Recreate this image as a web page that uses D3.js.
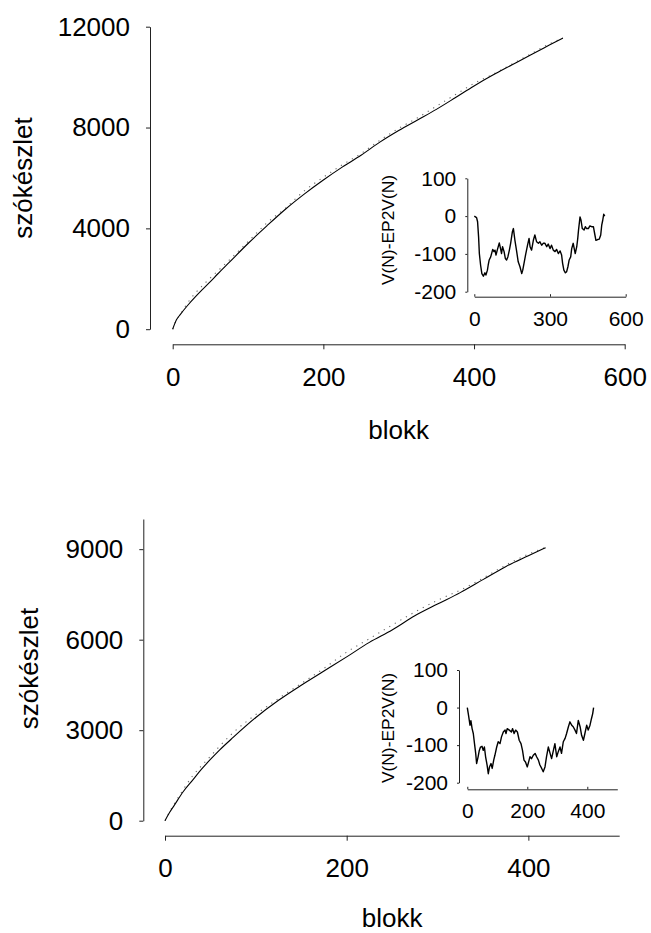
<!DOCTYPE html>
<html>
<head>
<meta charset="utf-8">
<script src="https://cdn.jsdelivr.net/npm/d3@7"></script>
<style>
  html, body { margin: 0; padding: 0; background: #fff; }
  svg { display: block; }
  text { font-family: "Liberation Sans", Arial, sans-serif; fill: #000; }
</style>
</head>
<body>
<svg id="chart" width="651" height="933"></svg>
<script>
// ---- Upper panel: vocabulary growth (solid) and EP2V expectation (dotted)
const blocksTop = [0, 5, 10, 20, 30, 40, 50, 60, 75, 100, 125, 150, 175, 200, 225, 250, 275, 300, 325, 350, 375, 400, 425, 450, 475, 500, 518];
const vocabTop  = [0, 370, 580, 950, 1280, 1590, 1890, 2200, 2650, 3400, 4100, 4770, 5370, 5920, 6430, 6900, 7420, 7880, 8300, 8720, 9180, 9650, 10080, 10480, 10880, 11270, 11550];
const ep2vTop   = [0, 372, 586, 1049, 1432, 1743, 2035, 2314, 2741, 3473, 4213, 4815, 5495, 6028, 6517, 6969, 7493, 7966, 8387, 8845, 9300, 9749, 10112, 10513, 10915, 11321, 11550];

// Upper inset: V(N) - EP2V(N)
const diffTopN = [0, 9, 13, 17, 20, 25, 30, 36, 42, 46, 52, 55, 59, 65, 73, 78, 82, 86, 91, 99, 104, 108, 112, 118, 123, 128, 133, 139, 144, 151, 155, 161, 168, 174, 181, 188, 192, 197, 203, 211, 217, 221, 227, 234, 240, 247, 254, 260, 267, 273, 280, 287, 293, 300, 306, 313, 320, 326, 333, 340, 346, 350, 355, 361, 366, 371, 376, 382, 386, 392, 396, 400, 406, 410, 413, 419, 423, 428, 435, 440, 445, 452, 458, 465, 472, 478, 482, 489, 495, 501, 505, 509, 513, 517];
const diffTopV = [0, -4, -15, -55, -99, -130, -152, -159, -150, -156, -143, -130, -116, -108, -88, -94, -90, -103, -90, -71, -86, -99, -81, -94, -112, -116, -108, -90, -72, -41, -33, -64, -94, -121, -134, -152, -143, -125, -103, -77, -59, -81, -90, -64, -50, -68, -72, -68, -77, -72, -72, -81, -74, -86, -77, -90, -94, -88, -99, -92, -103, -125, -143, -150, -147, -134, -116, -108, -86, -72, -86, -99, -81, -59, -37, -2, -11, -33, -37, -28, -33, -33, -26, -28, -28, -50, -64, -62, -61, -50, -24, -11, 5, 0];

// ---- Lower panel
const blocksBottom = [0, 5, 10, 20, 30, 40, 50, 60, 75, 100, 125, 150, 175, 200, 225, 250, 275, 300, 325, 350, 375, 400, 419];
const vocabBottom  = [0, 270, 500, 960, 1330, 1700, 2030, 2340, 2760, 3420, 3990, 4490, 4960, 5430, 5910, 6320, 6790, 7180, 7560, 7990, 8420, 8780, 9050];
const ep2vBottom   = [0, 292, 545, 1029, 1470, 1814, 2136, 2465, 2916, 3520, 4051, 4548, 5050, 5588, 6033, 6485, 6915, 7305, 7643, 8040, 8470, 8835, 9060];

const diffBottomN = [0, 4, 9, 12, 16, 20, 24, 28, 31, 36, 40, 44, 49, 53, 57, 61, 66, 70, 74, 79, 83, 88, 92, 98, 103, 109, 114, 120, 126, 129, 133, 140, 147, 151, 156, 161, 167, 173, 179, 184, 189, 194, 200, 206, 209, 214, 220, 226, 231, 237, 242, 248, 253, 259, 264, 270, 276, 281, 287, 292, 298, 303, 309, 314, 320, 326, 331, 337, 342, 348, 353, 359, 364, 370, 376, 381, 387, 392, 398, 403, 409, 414, 418, 421];
const diffBottomV = [0, -20, -47, -35, -56, -69, -96, -122, -149, -131, -114, -105, -103, -114, -105, -131, -153, -176, -158, -149, -162, -140, -127, -105, -91, -96, -78, -65, -60, -69, -56, -60, -65, -56, -69, -60, -65, -87, -96, -114, -140, -145, -158, -140, -131, -136, -127, -122, -131, -140, -153, -162, -171, -158, -131, -105, -122, -136, -114, -96, -131, -118, -105, -122, -91, -82, -69, -51, -38, -47, -51, -60, -69, -34, -51, -74, -87, -69, -47, -60, -47, -29, -16, 0];

// ---- Tick values and labels
const topXTicks = [0, 200, 400, 600];
const topYTicks = [0, 4000, 8000, 12000];
const bottomXTicks = [0, 200, 400];
const bottomYTicks = [0, 3000, 6000, 9000];
const insetYTicks = [-200, -100, 0, 100];
const insetTopXTicks = [0, 300, 600];
const insetBottomXTicks = [0, 200, 400];
const xTitle = "blokk";
const yTitle = "szókészlet";
const insetTitle = "V(N)-EP2V(N)";

const svg = d3.select("#chart");
svg.append("rect").attr("width", 651).attr("height", 933).attr("fill", "#fff");

const FONT_MAIN = 26;
const FONT_INSET = 21;
const FONT_INSET_TITLE = 17.4;
const AXIS_COLOR = "#222";

function styleAxis(g, fontSize) {
  g.attr("font-size", fontSize)
   .attr("font-family", '"Liberation Sans", Arial, sans-serif');
  g.selectAll("path.domain").attr("stroke", AXIS_COLOR).attr("stroke-width", 1);
  g.selectAll(".tick line").attr("stroke", AXIS_COLOR).attr("stroke-width", 1);
  g.selectAll(".tick text").attr("fill", "#000");
}

function drawPanel(cfg) {
  const x = d3.scaleLinear().domain(cfg.xDomain).range(cfg.xRange);
  const y = d3.scaleLinear().domain(cfg.yDomain).range(cfg.yRange);

  // main axes (offset from each other)
  const gy = svg.append("g").attr("transform", `translate(${cfg.yAxisX},0)`)
    .call(d3.axisLeft(y).tickValues(cfg.yTicks).tickFormat(d3.format("d"))
      .tickSizeInner(4).tickSizeOuter(0).tickPadding(16));
  styleAxis(gy, FONT_MAIN);

  const gx = svg.append("g").attr("transform", `translate(0,${cfg.xAxisY})`)
    .call(d3.axisBottom(x).tickValues(cfg.xTicks).tickFormat(d3.format("d"))
      .tickSizeInner(5).tickSizeOuter(0).tickPadding(18));
  styleAxis(gx, FONT_MAIN);

  // titles
  svg.append("text")
    .attr("transform", `translate(${cfg.yTitleX},${cfg.yTitleY}) rotate(-90)`)
    .attr("text-anchor", "middle").attr("font-size", FONT_MAIN)
    .text(yTitle);
  svg.append("text")
    .attr("x", (cfg.xRange[0] + cfg.xRange[1]) / 2).attr("y", cfg.xTitleY)
    .attr("text-anchor", "middle").attr("font-size", FONT_MAIN)
    .text(xTitle);

  // expected curve (dotted) and observed curve (solid)
  const line = d3.line().x(d => x(d[0])).y(d => y(d[1])).curve(d3.curveMonotoneX);
  svg.append("path")
    .attr("d", line(d3.zip(cfg.blocks, cfg.expected)))
    .attr("fill", "none").attr("stroke", "#6a6a6a")
    .attr("stroke-width", 1.1).attr("stroke-dasharray", "1.2 5.2");
  svg.append("path")
    .attr("d", line(d3.zip(cfg.blocks, cfg.observed)))
    .attr("fill", "none").attr("stroke", "#000").attr("stroke-width", 1.1);

  // inset: difference between observed and expected
  const xi = d3.scaleLinear().domain(cfg.insetXDomain).range(cfg.insetXRange);
  const yi = d3.scaleLinear().domain([-200, 100]).range(cfg.insetYRange);

  const giy = svg.append("g").attr("transform", `translate(${cfg.insetYAxisX},0)`)
    .call(d3.axisLeft(yi).tickValues(insetYTicks).tickFormat(d3.format("d"))
      .tickSizeInner(2).tickSizeOuter(0).tickPadding(9));
  styleAxis(giy, FONT_INSET);
  giy.selectAll(".tick text").text(d => d < 0 ? "-" + Math.abs(d) : d);

  const gix = svg.append("g").attr("transform", `translate(0,${cfg.insetXAxisY})`)
    .call(d3.axisBottom(xi).tickValues(cfg.insetXTicks).tickFormat(d3.format("d"))
      .tickSizeInner(-2.5).tickSizeOuter(0).tickPadding(14));
  styleAxis(gix, FONT_INSET);

  svg.append("text")
    .attr("transform", `translate(${cfg.insetTitleX},${cfg.insetTitleY}) rotate(-90)`)
    .attr("text-anchor", "middle").attr("font-size", FONT_INSET_TITLE)
    .text(insetTitle);

  const iline = d3.line().x(d => xi(d[0])).y(d => yi(d[1]));
  svg.append("path")
    .attr("d", iline(d3.zip(cfg.diffN, cfg.diffV)))
    .attr("fill", "none").attr("stroke", "#000")
    .attr("stroke-width", 1.4).attr("stroke-linejoin", "round");
}

drawPanel({
  xDomain: [0, 600], xRange: [172.7, 624.7], xTicks: topXTicks, xAxisY: 344.3,
  yDomain: [0, 12000], yRange: [329.2, 26.7], yTicks: topYTicks, yAxisX: 150,
  yTitleX: 31.5, yTitleY: 178, xTitleY: 439,
  blocks: blocksTop, observed: vocabTop, expected: ep2vTop,
  insetXDomain: [0, 600], insetXRange: [474.3, 625.7], insetXTicks: insetTopXTicks,
  insetXAxisY: 296.7, insetYRange: [291.7, 178.3], insetYAxisX: 467.3,
  insetTitleX: 394, insetTitleY: 230,
  diffN: diffTopN, diffV: diffTopV
});

drawPanel({
  xDomain: [0, 500], xRange: [165, 619.2], xTicks: bottomXTicks, xAxisY: 835.7,
  yDomain: [0, 10000], yRange: [820.7, 519], yTicks: bottomYTicks, yAxisX: 143.3,
  yTitleX: 38, yTitleY: 668.5, xTitleY: 927,
  blocks: blocksBottom, observed: vocabBottom, expected: ep2vBottom,
  insetXDomain: [0, 500], insetXRange: [467.3, 617.3], insetXTicks: insetBottomXTicks,
  insetXAxisY: 789.3, insetYRange: [782.7, 670], insetYAxisX: 459,
  insetTitleX: 394, insetTitleY: 728,
  diffN: diffBottomN, diffV: diffBottomV
});
</script>
</body>
</html>
